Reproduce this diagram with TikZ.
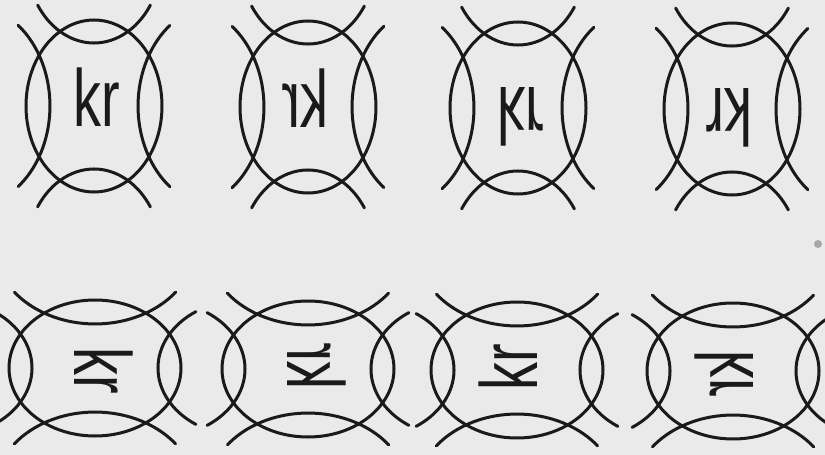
\documentclass[tikz,border=0pt]{standalone}
\usepackage{fontspec}
\setmainfont{Liberation Sans}
\usepackage{graphicx}
\definecolor{bg}{RGB}{234,234,234}
\definecolor{ink}{RGB}{26,26,26}
\tikzset{
  figline/.style={line width=3pt, draw=ink, line cap=round},
  lbl/.style={inner sep=0pt, outer sep=0pt, text=ink, font=\fontsize{81}{81}\selectfont, transform shape}
}
\newcommand\krfigure[1]{%
  \draw[figline] (0,0) ellipse [x radius=68, y radius=86];
  \draw[figline] (56.4,-100.9) arc[start angle=34, end angle=146, x radius=68, y radius=86];
  \draw[figline] (-56.4,100.9) arc[start angle=214, end angle=326, x radius=68, y radius=86];
  \draw[figline] (-75.9,-80.7) arc[start angle=-53, end angle=53, x radius=80, y radius=101];
  \draw[figline] (75.9,80.7) arc[start angle=127, end angle=233, x radius=80, y radius=101];
  \node[lbl] (#1) at (2.5,-9) {\scalebox{0.69}[1]{kr}};
}
\begin{document}
\begin{tikzpicture}[x=1pt,y=-1pt]
  \useasboundingbox (0,0) rectangle (825,455);
  \fill[bg] (0,0) rectangle (825,455);
  \clip (0,0) rectangle (825,455);
  % top row
  \begin{scope}[shift={(94,106)}]\krfigure{t1}\end{scope}
  \begin{scope}[shift={(308,107)}, xscale=-1]\krfigure{t2}\end{scope}
  \begin{scope}[shift={(518,108)}, yscale=-1]\krfigure{t3}\end{scope}
  \begin{scope}[shift={(732,109)}, rotate=180]\krfigure{t4}\end{scope}
  % bottom row
  \begin{scope}[shift={(95,368)}, rotate=-90]\krfigure{b1}\end{scope}
  \begin{scope}[shift={(308,369)}, cm={0,1,1,0,(0,0)}]\krfigure{b2}\end{scope}
  \begin{scope}[shift={(517,370)}, rotate=90]\krfigure{b3}\end{scope}
  \begin{scope}[shift={(733,371)}, cm={0,-1,-1,0,(0,0)}]\krfigure{b4}\end{scope}
  % small speck at right edge
  \fill[gray!70] (818,244) circle [radius=4];
\end{tikzpicture}
\end{document}
